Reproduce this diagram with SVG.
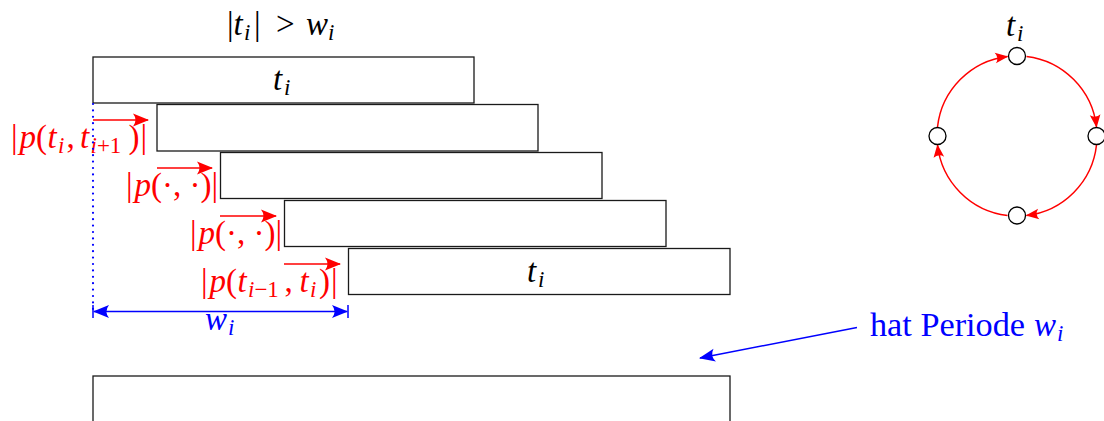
<svg xmlns="http://www.w3.org/2000/svg" width="1104" height="421" viewBox="0 0 1104 421">
<style>
.box{fill:#fff;stroke:#1a1a1a;stroke-width:1.3}
.m{font-family:"Liberation Serif","Times New Roman",serif;font-size:33px;fill:#000}
.it{font-style:italic}
.s{font-size:23px}
.red{fill:#f00}
.blue{fill:#00f}
.rl{stroke:#f00;stroke-width:1.5;fill:none}
.bl{stroke:#00f;stroke-width:1.5;fill:none}
.node{fill:#fff;stroke:#000;stroke-width:1.3}
</style>
<defs>
<marker id="hr" viewBox="-16 -7 17 14" refX="0" refY="0" markerWidth="17" markerHeight="14" markerUnits="userSpaceOnUse" orient="auto">
<path d="M1,0 L-15,-6.5 Q-10,0 -15,6.5 Z" fill="#f00"/>
</marker>
<marker id="hrs" viewBox="-16 -7 17 14" refX="0" refY="0" markerWidth="14" markerHeight="11.5" markerUnits="userSpaceOnUse" orient="auto">
<path d="M1,0 L-15,-6.5 Q-10,0 -15,6.5 Z" fill="#f00"/>
</marker>
<marker id="hb" viewBox="-16 -7 17 14" refX="0" refY="0" markerWidth="17" markerHeight="14" markerUnits="userSpaceOnUse" orient="auto-start-reverse">
<path d="M1,0 L-15,-6.5 Q-10,0 -15,6.5 Z" fill="#00f"/>
</marker>
</defs>

<text class="m" y="35"><tspan x="227">|</tspan><tspan x="233.5" class="it">t</tspan><tspan x="244" y="40" class="it s">i</tspan><tspan x="254" y="35">|</tspan><tspan x="276">&gt;</tspan><tspan x="306" class="it">w</tspan><tspan x="328" y="40" class="it s">i</tspan></text>

<g id="task1"><rect class="box" x="93" y="57" width="381" height="46"/>
<text class="m" y="90"><tspan x="273" class="it">t</tspan><tspan x="284" y="95" class="it s">i</tspan></text></g>
<g id="task2"><rect class="box" x="157" y="104.5" width="381" height="46.5"/></g>
<g id="task3"><rect class="box" x="220.5" y="152.5" width="381.5" height="46"/></g>
<g id="task4"><rect class="box" x="284.5" y="200.5" width="381.5" height="46"/></g>
<g id="task5"><rect class="box" x="348.5" y="248.5" width="381.5" height="46"/>
<text class="m" y="282"><tspan x="527" class="it">t</tspan><tspan x="538" y="287" class="it s">i</tspan></text></g>
<g id="period"><rect class="box" x="93" y="376" width="637" height="60"/></g>

<g id="labels">
<text class="m red" y="148"><tspan x="11">|</tspan><tspan x="19.5" class="it">p</tspan><tspan x="36">(</tspan><tspan x="47.5" class="it">t</tspan><tspan x="58" y="153" class="it s">i</tspan><tspan x="66.5" y="148">,</tspan><tspan x="80" class="it">t</tspan><tspan x="90.5" y="153" class="s"><tspan class="it">i</tspan>+1</tspan><tspan x="128.5" y="148">)</tspan><tspan x="140.5">|</tspan></text>
<text class="m red" y="196"><tspan x="126">|</tspan><tspan x="134.5" class="it">p</tspan><tspan x="151">(·, ·)|</tspan></text>
<text class="m red" y="244"><tspan x="190">|</tspan><tspan x="198.5" class="it">p</tspan><tspan x="215">(·, ·)|</tspan></text>
<text class="m red" y="292"><tspan x="201">|</tspan><tspan x="209.5" class="it">p</tspan><tspan x="226">(</tspan><tspan x="237.5" class="it">t</tspan><tspan x="248" y="297" class="s"><tspan class="it">i</tspan>−1</tspan><tspan x="284.5" y="292">,</tspan><tspan x="299.5" class="it">t</tspan><tspan x="310" y="297" class="it s">i</tspan><tspan x="319" y="292">)</tspan><tspan x="331">|</tspan></text>
</g>

<g id="connectors">
<line class="rl" x1="93" y1="120" x2="148" y2="120" marker-end="url(#hr)"/>
<line class="rl" x1="157" y1="168" x2="212" y2="168" marker-end="url(#hr)"/>
<line class="rl" x1="220" y1="216" x2="276" y2="216" marker-end="url(#hr)"/>
<line class="rl" x1="284" y1="264" x2="340" y2="264" marker-end="url(#hr)"/>
<line x1="93" y1="104" x2="93" y2="312" stroke="#00f" stroke-width="2.2" stroke-linecap="round" stroke-dasharray="0 6.4"/>
<line class="bl" x1="94" y1="311.5" x2="347" y2="311.5" marker-start="url(#hb)" marker-end="url(#hb)"/>
<line class="bl" x1="93" y1="305" x2="93" y2="318"/>
<line class="bl" x1="348" y1="305" x2="348" y2="318"/>
<line class="bl" x1="857" y1="327.5" x2="700" y2="358" marker-end="url(#hb)"/>
<path class="rl" d="M937.5,127 A80,80 0 0 1 1007.5,56.5" marker-end="url(#hrs)"/>
<path class="rl" d="M1026.5,56.5 A80,80 0 0 1 1096.5,127" marker-end="url(#hrs)"/>
<path class="rl" d="M1096.5,145 A80,80 0 0 1 1026.5,215.5" marker-end="url(#hrs)"/>
<path class="rl" d="M1007.5,215.5 A80,80 0 0 1 937.5,145" marker-end="url(#hrs)"/>
</g>

<g id="nodeTop"><circle class="node" cx="1017" cy="56" r="8.5"/>
<text class="m" y="36"><tspan x="1006" class="it">t</tspan><tspan x="1017" y="41" class="it s">i</tspan></text></g>
<g id="nodeLeft"><circle class="node" cx="937.5" cy="136" r="8.5"/></g>
<g id="nodeRight"><circle class="node" cx="1096.5" cy="136" r="8.5"/></g>
<g id="nodeBottom"><circle class="node" cx="1017" cy="215.5" r="8.5"/></g>

<g id="note"><text class="m blue" y="336"><tspan x="870" textLength="155" lengthAdjust="spacingAndGlyphs">hat Periode</tspan><tspan x="1034" class="it">w</tspan><tspan x="1057" y="341" class="it s">i</tspan></text></g>
<text class="m blue" y="330"><tspan x="205" class="it">w</tspan><tspan x="228" y="335" class="it s">i</tspan></text>
</svg>
